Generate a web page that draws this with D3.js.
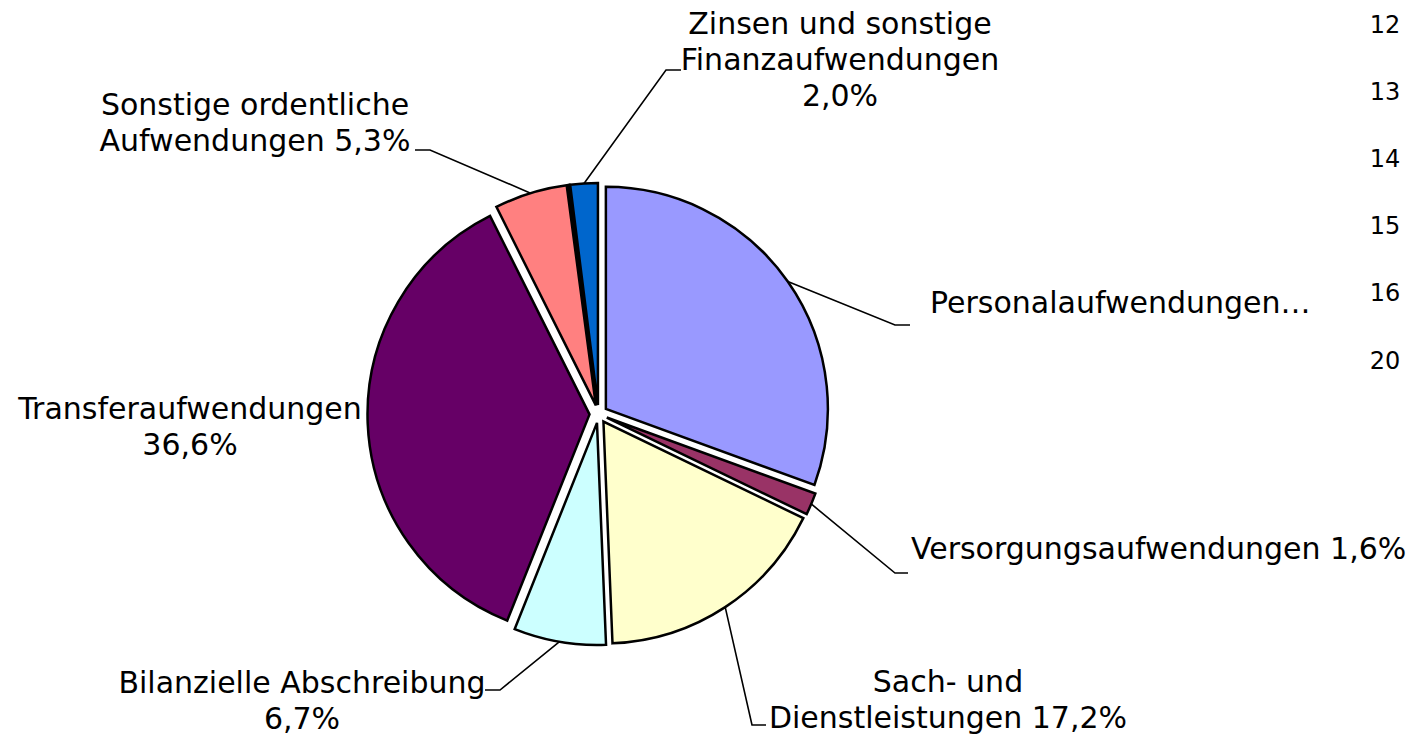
<!DOCTYPE html>
<html><head><meta charset="utf-8">
<script src="https://cdn.jsdelivr.net/npm/d3@7"></script>
<style>html,body{margin:0;padding:0;background:#fff;}svg{display:block;}</style>
</head><body>
<svg id="chart" width="1412" height="736"></svg>
<script>
// ---- data ----
const categories = ["Personalaufwendungen", "Versorgungsaufwendungen", "Sach- und Dienstleistungen", "Bilanzielle Abschreibung", "Transferaufwendungen", "Sonstige ordentliche Aufwendungen", "Sonstige", "Zinsen und sonstige Finanzaufwendungen"];
const shares = [30.6, 1.6, 17.2, 6.7, 36.6, 5.3, 0.1, 2.0];
const labelLines = [
  ["Personalaufwendungen…"],
  ["Versorgungsaufwendungen 1,6%"],
  ["Sach- und", "Dienstleistungen 17,2%"],
  ["Bilanzielle Abschreibung", "6,7%"],
  ["Transferaufwendungen", "36,6%"],
  ["Sonstige ordentliche", "Aufwendungen 5,3%"],
  [],
  ["Zinsen und sonstige", "Finanzaufwendungen", "2,0%"]
];
const legendLabels = ["12", "13", "14", "15", "16", "20"];
const colors = ["#9999FF", "#993366", "#FFFFCC", "#CCFFFF", "#660066", "#FF8080", "#000000", "#0066CC"];

// ---- layout ----
const cx = 598.5, cy = 414, R = 222, explode = 9;
const FONT = "'DejaVu Sans', Verdana, sans-serif";
const FS = 30, LH = 36;
const labelLayout = [
  {elbow:[895,325], end:[910,325], anchor:"start", tx:930, ty:302},
  {elbow:[895,573], end:[908,573], anchor:"start", tx:911, ty:548},
  {elbow:[752,725], end:[766,725], anchor:"middle", tx:948, ty:681},
  {elbow:[500,690], end:[485,690], anchor:"middle", tx:302, ty:682},
  {elbow:null, anchor:"middle", tx:190, ty:408},
  {elbow:[430,150], end:[415,150], anchor:"middle", tx:255, ty:104},
  null,
  {elbow:[666,70], end:[681,70], anchor:"middle", tx:840, ty:23}
];

const svg = d3.select("#chart");
const data = categories.map((c,i)=>({name:c, value:shares[i], i}));
const pie = d3.pie().sort(null).value(d=>d.value).startAngle(0).endAngle(2*Math.PI);
const arcs = pie(data);
const arc = d3.arc().innerRadius(0).outerRadius(R);

const g = svg.append("g").attr("transform", `translate(${cx},${cy})`);
arcs.forEach(a=>{
  const mid = (a.startAngle + a.endAngle)/2;
  a.dx = explode*Math.sin(mid); a.dy = -explode*Math.cos(mid);
  a.mid = mid;
});
g.selectAll("path.slice").data(arcs).enter().append("path")
  .attr("class","slice")
  .attr("transform", d=>`translate(${d.dx},${d.dy})`)
  .attr("d", arc)
  .attr("fill", d=>colors[d.data.i])
  .attr("stroke", "#000").attr("stroke-width", 2.5).attr("stroke-linejoin","miter");

// leader lines
arcs.forEach(a=>{
  const L = labelLayout[a.data.i];
  if (!L || !L.elbow) return;
  const sx = cx + a.dx + R*Math.sin(a.mid), sy = cy + a.dy - R*Math.cos(a.mid);
  svg.append("polyline")
    .attr("points", [[sx,sy], L.elbow, L.end].map(p=>p.join(",")).join(" "))
    .attr("fill","none").attr("stroke","#000").attr("stroke-width",1.6);
});

// labels
arcs.forEach(a=>{
  const L = labelLayout[a.data.i];
  if (!L) return;
  const t = svg.append("text").attr("font-family", FONT).attr("font-size", FS)
    .attr("fill","#000").attr("text-anchor", L.anchor);
  labelLines[a.data.i].forEach((ln,k)=>{
    t.append("tspan").attr("x", L.tx).attr("y", L.ty + k*LH).attr("dy","0.36em").text(ln);
  });
});

// legend (text only)
const ly = d3.scalePoint().domain(legendLabels).range([24, 360]);
svg.selectAll("text.leg").data(legendLabels).enter().append("text")
  .attr("class","leg").attr("x", 1385).attr("y", d=>ly(d)).attr("dy","0.36em")
  .attr("text-anchor","middle").attr("font-family", FONT).attr("font-size", 24)
  .text(d=>d);
</script>
</body></html>
